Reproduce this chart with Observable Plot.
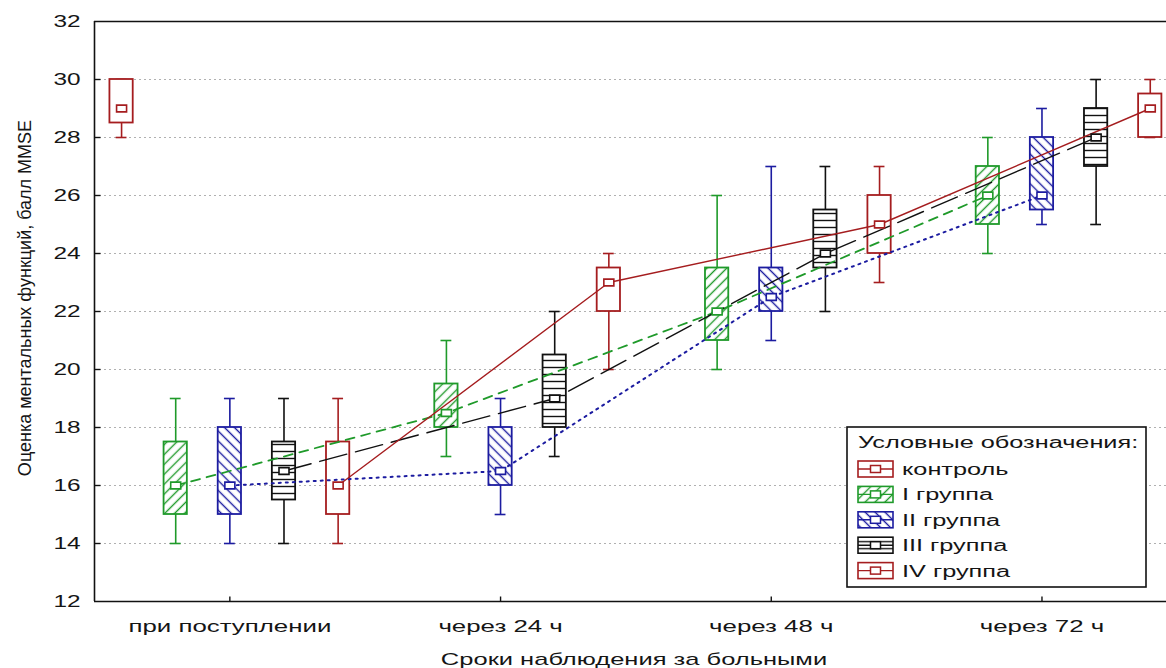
<!DOCTYPE html>
<html><head><meta charset="utf-8">
<script src="https://cdn.jsdelivr.net/npm/d3@7"></script>
<script src="https://cdn.jsdelivr.net/npm/@observablehq/plot@0.6"></script>
<style>
html,body{margin:0;padding:0;background:#fff;}
#chart svg{display:block;}
</style></head><body><div id="chart"></div>
<script>
// ---- data ----
const categories = ["при поступлении", "через 24 ч", "через 48 ч", "через 72 ч"];
const groupNames = ["контроль", "I группа", "II группа", "III группа", "IV группа"];
const legendTitle = "Условные обозначения:";
const xTitle = "Сроки наблюдения за больными";
const yTitle = "Оценка ментальных функций, балл MMSE";
const yTicks = [12, 14, 16, 18, 20, 22, 24, 26, 28, 30, 32];

// five-number summaries per time point (min, Q1, median, Q3, max)
const ctrlMin = [28],  ctrlQ1 = [28.5], ctrlMed = [29], ctrlQ3 = [30], ctrlMax = [30];
const g1Min = [14, 17, 20, 24], g1Q1 = [15, 18, 21, 25], g1Med = [16, 18.5, 22, 26], g1Q3 = [17.5, 19.5, 23.5, 27], g1Max = [19, 21, 26, 28];
const g2Min = [14, 15, 21, 25], g2Q1 = [15, 16, 22, 25.5], g2Med = [16, 16.5, 22.5, 26], g2Q3 = [18, 18, 23.5, 28], g2Max = [19, 19, 27, 29];
const g3Min = [14, 17, 22, 25], g3Q1 = [15.5, 18, 23.5, 27], g3Med = [16.5, 19, 24, 28], g3Q3 = [17.5, 20.5, 25.5, 29], g3Max = [19, 22, 27, 30];
const g4Min = [14, 20, 23, 28], g4Q1 = [15, 22, 24, 28], g4Med = [16, 23, 25, 29], g4Q3 = [17.5, 23.5, 26, 29.5], g4Max = [19, 24, 27, 30];

// ---- styling ----
const RED = "#a51d1f", GREEN = "#1f9a2a", BLUE = "#1c1ca0", BLACK = "#111";
const series = [
  {name: groupNames[0], slot: 0, color: RED,   fill: "url(#patPlain)", dash: null, line: false, stats: [ctrlMin, ctrlQ1, ctrlMed, ctrlQ3, ctrlMax]},
  {name: groupNames[1], slot: 1, color: GREEN, fill: "url(#patI)", dash: "9,7", lw: 1.8, line: true, stats: [g1Min, g1Q1, g1Med, g1Q3, g1Max]},
  {name: groupNames[2], slot: 2, color: BLUE,  fill: "url(#patII)", dash: "2,5", lw: 2, line: true, stats: [g2Min, g2Q1, g2Med, g2Q3, g2Max]},
  {name: groupNames[3], slot: 3, color: BLACK, fill: "url(#patIII)", dash: "28,9", lw: 1.4, line: true, stats: [g3Min, g3Q1, g3Med, g3Q3, g3Max]},
  {name: groupNames[4], slot: 4, color: RED,   fill: "url(#patPlain)", dash: null, lw: 1.4, line: true, stats: [g4Min, g4Q1, g4Med, g4Q3, g4Max]}
];
const slotStep = 0.2, boxHalf = 0.043, capHalf = 0.02;

series.forEach(s => {
  const [mn, q1, md, q3, mx] = s.stats;
  s.rows = md.map((m, i) => ({x: i + (s.slot - 2) * slotStep, min: mn[i], q1: q1[i], med: m, q3: q3[i], max: mx[i]}));
});

const medSymbol = {draw(ctx, size) { const r = Math.sqrt(size / Math.PI); ctx.rect(-1.25 * r, -0.85 * r, 2.5 * r, 1.7 * r); }};
const tickInRight = {draw(ctx) { ctx.moveTo(0, 0); ctx.lineTo(6, 0); }};
const tickInUp = {draw(ctx) { ctx.moveTo(0, 0); ctx.lineTo(0, -5); }};

const marks = [];
marks.push(Plot.ruleY(yTicks.slice(1, -1), {stroke: "#b0b0b0", strokeWidth: 1.2, strokeDasharray: "2,3"}));
for (const s of series) {
  marks.push(Plot.ruleX(s.rows, {x: "x", y1: "min", y2: "max", stroke: s.color, strokeWidth: 1.6}));
  marks.push(Plot.ruleY(s.rows, {y: "max", x1: d => d.x - capHalf, x2: d => d.x + capHalf, stroke: s.color, strokeWidth: 1.6}));
  marks.push(Plot.ruleY(s.rows, {y: "min", x1: d => d.x - capHalf, x2: d => d.x + capHalf, stroke: s.color, strokeWidth: 1.6}));
  marks.push(Plot.rect(s.rows, {x1: d => d.x - boxHalf, x2: d => d.x + boxHalf, y1: "q1", y2: "q3", fill: s.fill, stroke: s.color, strokeWidth: 1.8}));
}
for (const s of series) {
  if (s.line) marks.push(Plot.line(s.rows, {x: "x", y: "med", stroke: s.color, strokeWidth: s.lw, strokeDasharray: s.dash}));
}
for (const s of series) {
  marks.push(Plot.dot(s.rows, {x: "x", y: "med", symbol: medSymbol, r: 4, fill: "white", stroke: s.color, strokeWidth: 1.6}));
}
// frame
marks.push(Plot.ruleY([12, 32], {stroke: "#111", strokeWidth: 1.6}));
marks.push(Plot.ruleX([-0.5], {stroke: "#111", strokeWidth: 1.6}));
marks.push(Plot.dot(yTicks.slice(1, -1), {x: () => -0.5, y: d => d, symbol: tickInRight, r: 3, fill: "none", stroke: "#111", strokeWidth: 1.4}));
marks.push(Plot.dot([0, 1, 2, 3], {x: d => d, y: () => 12, symbol: tickInUp, r: 3, fill: "none", stroke: "#111", strokeWidth: 1.4}));
marks.push(Plot.axisY({ticks: yTicks, tickSize: 0, tickPadding: 14, fontSize: 16, label: null, tickFormat: d => String(d)}));
marks.push(Plot.axisX({ticks: [0, 1, 2, 3], tickSize: 0, tickPadding: 18, fontSize: 17, label: null, tickFormat: i => categories[i]}));

const svg = Plot.plot({
  width: 1166, height: 668,
  marginLeft: 94, marginRight: 0, marginTop: 21, marginBottom: 67,
  style: {fontFamily: "Arial, 'Liberation Sans', sans-serif", color: "#151515", background: "white"},
  x: {domain: [-0.5, 3.46], axis: null},
  y: {domain: [12, 32], axis: null},
  marks
});
document.getElementById("chart").appendChild(svg);

// ---- patterns ----
const sel = d3.select(svg);
const defs = sel.insert("defs", ":first-child");
function pattern(id, color, angle, step, horizontal) {
  const p = defs.append("pattern").attr("id", id).attr("patternUnits", "userSpaceOnUse")
    .attr("width", step).attr("height", step);
  if (angle) p.attr("patternTransform", `rotate(${angle})`);
  p.append("rect").attr("width", step).attr("height", step).attr("fill", "white");
  if (color) {
    if (horizontal) p.append("line").attr("x1", 0).attr("x2", step).attr("y1", step / 2).attr("y2", step / 2).attr("stroke", color).attr("stroke-width", 1.4);
    else p.append("line").attr("x1", step / 2).attr("x2", step / 2).attr("y1", 0).attr("y2", step).attr("stroke", color).attr("stroke-width", 1.4);
  }
}
pattern("patPlain", null, 0, 8, false);
pattern("patI", GREEN, 45, 7, false);
pattern("patII", BLUE, -45, 7, false);
pattern("patIII", BLACK, 0, 7, true);

function stretch(node, k) {
  const L = node.getComputedTextLength();
  node.setAttribute("textLength", (L * k).toFixed(1));
  node.setAttribute("lengthAdjust", "spacingAndGlyphs");
}
sel.selectAll('[aria-label="y-axis tick label"] text').each(function() { stretch(this, 1.52); });
sel.selectAll('[aria-label="x-axis tick label"] text').each(function() { stretch(this, 1.52); });

// ---- axis titles ----
const xt = sel.append("text").attr("x", 634).attr("y", 665).attr("text-anchor", "middle")
  .attr("font-size", 17).attr("fill", "#151515").text(xTitle);
stretch(xt.node(), 1.5);
sel.append("text").attr("transform", "translate(31,298) rotate(-90)").attr("text-anchor", "middle")
  .attr("font-size", 18).attr("fill", "#151515").text(yTitle);

// ---- legend ----
const lg = sel.append("g").attr("transform", "translate(847,427)").attr("text-anchor", "start");
lg.append("rect").attr("width", 299).attr("height", 160).attr("fill", "white").attr("stroke", "#111").attr("stroke-width", 1.6);
const lt = lg.append("text").attr("x", 11).attr("y", 21).attr("text-anchor", "start").attr("font-size", 16).attr("fill", "#151515").text(legendTitle);
stretch(lt.node(), 1.58);
series.forEach((s, i) => {
  const cy = 42 + i * 25.4;
  const g = lg.append("g").attr("transform", `translate(11,${cy})`);
  g.append("rect").attr("x", 0).attr("y", -8).attr("width", 35).attr("height", 16).attr("fill", s.fill).attr("stroke", s.color).attr("stroke-width", 1.6);
  g.append("line").attr("x1", 0).attr("x2", 35).attr("y1", 0).attr("y2", 0).attr("stroke", s.color).attr("stroke-width", 1.4);
  g.append("rect").attr("x", 12.5).attr("y", -3.5).attr("width", 10).attr("height", 7).attr("fill", "white").attr("stroke", s.color).attr("stroke-width", 1.5);
  const t = g.append("text").attr("x", 44).attr("y", 6).attr("text-anchor", "start").attr("font-size", 16).attr("fill", "#151515").text(s.name);
  stretch(t.node(), 1.58);
});
</script>
</body></html>
